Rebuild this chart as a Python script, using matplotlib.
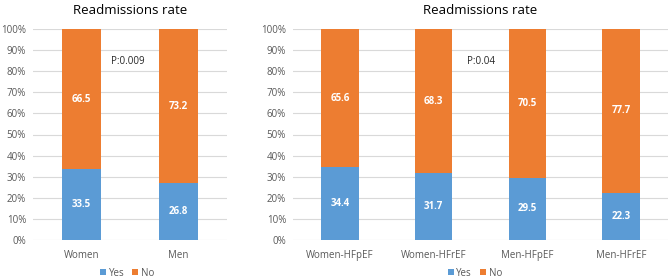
import matplotlib
matplotlib.use('Agg')
import matplotlib.pyplot as plt
import numpy as np
from matplotlib.ticker import PercentFormatter

## data
sex_groups = ['Women', 'Men']
sex_yes = [33.5, 26.8]
sex_no = [66.5, 73.2]
sex_p = 'P:0.009'

ef_groups = ['Women-HFpEF', 'Women-HFrEF', 'Men-HFpEF', 'Men-HFrEF']
ef_yes = [34.4, 31.7, 29.5, 22.3]
ef_no = [65.6, 68.3, 70.5, 77.7]
ef_p = 'P:0.04'

title = 'Readmissions rate'

blue = '#5B9BD5'
orange = '#ED7D31'
grey = '#595959'
grid = '#D9D9D9'

plt.rcParams['font.family'] = ['Open Sans', 'DejaVu Sans']

W, H = 669., 278.
fig = plt.figure(figsize=(W/100, H/100), dpi=100)

def panel(rect, groups, yes, no, ptext, px):
    ax = fig.add_axes(rect)
    x = np.arange(len(groups))
    ax.bar(x, yes, width=0.4, color=blue, label='Yes', zorder=2)
    ax.bar(x, no, width=0.4, bottom=yes, color=orange, label='No', zorder=2)
    for xi, y1, y2 in zip(x, yes, no):
        ax.text(xi, y1/2, '{:.1f}'.format(y1), ha='center', va='center',
                color='white', fontsize=7, fontweight='bold', zorder=3)
        ax.text(xi, y1 + y2/2, '{:.1f}'.format(y2), ha='center', va='center',
                color='white', fontsize=7, fontweight='bold', zorder=3)
    ax.text(px, 84.5, ptext, ha='center', va='center', color='#262626', fontsize=7)
    ax.set_xlim(-0.5, len(groups) - 0.5)
    ax.set_ylim(0, 100)
    ax.set_yticks(np.arange(0, 101, 10))
    ax.yaxis.set_major_formatter(PercentFormatter(decimals=0))
    ax.set_xticks(x)
    ax.set_xticklabels(groups)
    ax.yaxis.grid(True, color=grid, linewidth=0.8, zorder=0)
    for s in ax.spines.values():
        s.set_visible(False)
    ax.tick_params(axis='both', length=0, labelsize=7, colors=grey)
    ax.tick_params(axis='x', pad=7)
    ax.tick_params(axis='y', pad=5)
    ax.set_title(title, fontsize=9.5, color='black', pad=11)
    ax.legend(loc='center', bbox_to_anchor=(0.485, -33/211), ncol=2,
              frameon=False, fontsize=7, handlelength=0.6, handleheight=0.6,
              handletextpad=0.3, columnspacing=0.8, labelcolor=grey,
              borderpad=0)
    return ax

panel([33/W, 38/H, 194/W, 211/H], sex_groups, sex_yes, sex_no, sex_p, 0.48)
panel([293/W, 38/H, 375/W, 211/H], ef_groups, ef_yes, ef_no, ef_p, 1.5)

plt.savefig('out.png', dpi=100)
plt.close(fig)
